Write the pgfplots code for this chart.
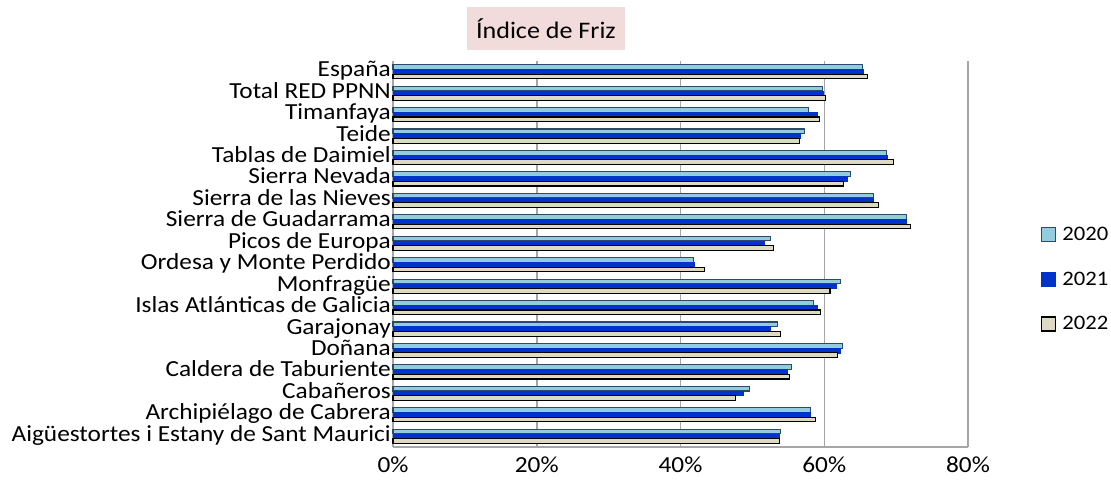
\documentclass[border=0pt]{standalone}
\usepackage{fontspec}
\setmainfont[FakeStretch=1.1]{Carlito}
\usepackage{pgfplots}
\usepackage{pgfplotstable}
\pgfplotsset{compat=1.18}
\definecolor{c20}{HTML}{93CDDD}
\definecolor{c20e}{HTML}{2E4A6B}
\definecolor{c21}{HTML}{0033CC}
\definecolor{c22}{HTML}{DDD9C3}
\definecolor{gridc}{HTML}{A6A6A6}
\definecolor{titlebg}{HTML}{F2DCDB}

\pgfplotstableread{
idx v20 v21 v22
0 53.9 53.7 53.8
1 58.1 58.0 58.8
2 49.6 48.8 47.7
3 55.4 54.9 55.2
4 62.5 62.3 61.8
5 53.5 52.5 53.9
6 58.5 59.0 59.5
7 62.2 61.7 60.8
8 41.8 41.9 43.3
9 52.5 51.6 53.0
10 71.5 71.4 72.0
11 66.9 66.8 67.6
12 63.6 63.2 62.7
13 68.7 68.8 69.6
14 57.3 56.7 56.6
15 57.8 59.1 59.4
16 59.8 59.8 60.2
17 65.3 65.5 66.0
}\data

\pgfplotsset{sqleg/.style={legend image code/.code={\draw[##1] (0pt,-7pt) rectangle (14pt,7pt);}}}

\begin{document}
\begin{tikzpicture}[x=1pt,y=1pt]
\useasboundingbox (0,0) rectangle (1111,488);
\begin{axis}[
  at={(393pt,41pt)}, anchor=south west,
  scale only axis, width=575pt, height=386pt,
  xmin=0, xmax=80, ymin=-0.5, ymax=17.5,
  xtick={0,20,40,60,80},
  xticklabels={0\%,20\%,40\%,60\%,80\%},
  ytick={0,...,17},
  yticklabels={Aigüestortes i Estany de Sant Maurici,Archipiélago de Cabrera,Cabañeros,Caldera de Taburiente,Doñana,Garajonay,Islas Atlánticas de Galicia,Monfragüe,Ordesa y Monte Perdido,Picos de Europa,Sierra de Guadarrama,Sierra de las Nieves,Sierra Nevada,Tablas de Daimiel,Teide,Timanfaya,Total RED PPNN,España},
  axis x line*=bottom, axis y line*=left,
  axis line style={draw=gridc, line width=1.5pt, -},
  xmajorgrids, major grid style={draw=gridc, line width=1.5pt},
  major tick length=0pt, tick style={draw=none},
  ticklabel style={font=\fontsize{23}{23}\selectfont},
  yticklabel style={inner xsep=2pt, inner ysep=0pt, text height=14pt, text depth=4pt},
  xticklabel style={yshift=-6pt},
  title={Índice de Friz},
  title style={at={(axis description cs:0.266,1)}, anchor=south, yshift=5pt,
    fill=titlebg, inner xsep=9pt, inner ysep=11.5pt, font=\fontsize{23.7}{23.7}\selectfont},
  legend style={at={(axis description cs:1.127,0.435)}, anchor=west, draw=none, fill=none,
    font=\fontsize{20.6}{20.6}\selectfont, row sep=26pt, inner sep=0pt,
    /tikz/every odd column/.append style={column sep=4pt}},
  legend cell align=left,
  xbar, bar width=4.7pt,
  clip=false,
]
\addplot[xbar, sqleg, bar shift=4.7pt, fill=c20, draw=c20e, line width=1.1pt] table[x=v20, y=idx]{\data};
\addplot[xbar, sqleg, bar shift=0pt, fill=c21, draw=c21, line width=0.6pt] table[x=v21, y=idx]{\data};
\addplot[xbar, sqleg, bar shift=-4.7pt, fill=c22, draw=black, line width=1.1pt] table[x=v22, y=idx]{\data};
\legend{2020,2021,2022}
\end{axis}
\end{tikzpicture}
\end{document}
